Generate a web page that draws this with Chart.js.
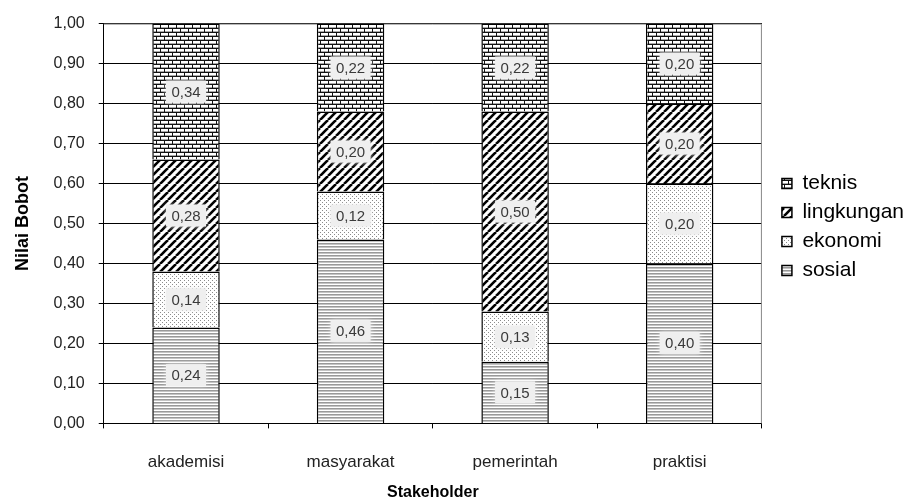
<!DOCTYPE html>
<html><head><meta charset="utf-8">
<script src="https://cdn.jsdelivr.net/npm/chart.js@4.4.1/dist/chart.umd.min.js"></script>
<style>html,body{margin:0;padding:0;background:#fff}#wrap{width:911px;height:502px}</style>
</head><body><div id="wrap"><canvas id="c" width="911" height="502"></canvas></div>
<script>
const categories = ['akademisi', 'masyarakat', 'pemerintah', 'praktisi'];
const sosial = [0.24, 0.46, 0.154, 0.40];
const ekonomi = [0.14, 0.12, 0.126, 0.20];
const lingkungan = [0.28, 0.20, 0.50, 0.20];
const teknis = [0.34, 0.22, 0.22, 0.20];
const yTicks = [0, 0.1, 0.2, 0.3, 0.4, 0.5, 0.6, 0.7, 0.8, 0.9, 1.0];

const FONT = "'Liberation Sans', Arial, sans-serif";

function makePattern(w, h, draw) {
  const c = document.createElement('canvas');
  c.width = w; c.height = h;
  const x = c.getContext('2d');
  x.fillStyle = '#fff'; x.fillRect(0, 0, w, h);
  draw(x);
  return x.createPattern(c, 'repeat');
}
const patSosial = makePattern(1, 3, x => {
  x.fillStyle = '#999'; x.fillRect(0, 0, 1, 1);
  x.fillStyle = '#c4c4c4'; x.fillRect(0, 1, 1, 1);
});
const patEkonomi = makePattern(4, 4, x => {
  x.fillStyle = '#8a8a8a'; x.fillRect(0, 0, 1, 1); x.fillRect(2, 2, 1, 1);
});
const patLingkungan = makePattern(8, 8, x => {
  x.strokeStyle = '#000'; x.lineWidth = 2.6;
  for (const k of [-8, 0, 8]) { x.beginPath(); x.moveTo(k, 8); x.lineTo(k + 8, 0); x.stroke(); }
});
const patTeknis = makePattern(8, 8, x => {
  x.fillStyle = '#111';
  x.fillRect(0, 0, 8, 1); x.fillRect(0, 4, 8, 1);
  x.fillRect(0, 0, 1, 4); x.fillRect(4, 4, 1, 4);
  x.fillStyle = '#aaa';
  x.fillRect(1, 3, 7, 1); x.fillRect(0, 7, 4, 1); x.fillRect(5, 7, 3, 1);
});

const fmt = v => v.toFixed(2).replace('.', ',');

const labelPlugin = {
  id: 'segLabels',
  afterDatasetsDraw(chart) {
    const ctx = chart.ctx;
    ctx.save();
    ctx.font = '15px ' + FONT;
    ctx.textAlign = 'center';
    ctx.textBaseline = 'middle';
    chart.data.datasets.forEach((ds, i) => {
      const meta = chart.getDatasetMeta(i);
      meta.data.forEach((el, j) => {
        const cy = (el.y + el.base) / 2;
        const cx = el.x;
        ctx.save();
        ctx.shadowColor = 'rgba(238,238,238,1)';
        ctx.shadowBlur = 5;
        ctx.fillStyle = '#efefef';
        ctx.fillRect(cx - 20, cy - 11, 40, 22);
        ctx.restore();
        ctx.fillStyle = '#3a3a3a';
        ctx.fillText(fmt(ds.data[j]), cx, cy + 1);
      });
    });
    ctx.restore();
  }
};

const framePlugin = {
  id: 'frame',
  beforeDatasetsDraw(chart) {
    const a = chart.chartArea, ctx = chart.ctx;
    ctx.save();
    ctx.strokeStyle = '#888';
    ctx.lineWidth = 1;
    ctx.beginPath();
    ctx.moveTo(a.left, a.top + 0.5); ctx.lineTo(a.right - 0.5, a.top + 0.5); ctx.lineTo(a.right - 0.5, a.bottom);
    ctx.stroke();
    ctx.restore();
  }
};

const legendShift = {
  id: 'legendShift',
  afterLayout(chart) {
    const lg = chart.legend;
    if (lg) { lg.left += 12; lg.right += 12; lg.top -= 35; lg.bottom -= 35; }
  }
};

const mk = (label, data, pat) => ({
  label, data, backgroundColor: pat, borderColor: '#000', borderWidth: 1.5,
  barPercentage: 0.41, categoryPercentage: 1.0
});

new Chart(document.getElementById('c'), {
  type: 'bar',
  data: {
    labels: categories,
    datasets: [
      mk('sosial', sosial, patSosial),
      mk('ekonomi', ekonomi, patEkonomi),
      mk('lingkungan', lingkungan, patLingkungan),
      mk('teknis', teknis, patTeknis)
    ]
  },
  options: {
    responsive: false,
    animation: false,
    devicePixelRatio: 1,
    layout: { padding: { left: 1, top: 22, right: 9, bottom: 0 } },
    scales: {
      x: {
        stacked: true,
        grid: { display: true, drawOnChartArea: false, drawTicks: true, tickLength: 5, offset: true, color: '#000' },
        border: { color: '#000', width: 1 },
        ticks: { color: '#222', font: { family: FONT, size: 17 }, padding: 24 },
        title: { display: true, text: 'Stakeholder', color: '#000', font: { family: FONT, size: 16, weight: 'bold' }, padding: { top: -14, bottom: 0 } }
      },
      y: {
        stacked: true,
        min: 0, max: 1,
        afterBuildTicks(axis) { axis.ticks = yTicks.map(v => ({ value: v })); },
        grid: { color: '#000', lineWidth: 1, tickLength: 5, drawTicks: true },
        border: { color: '#000', width: 1 },
        ticks: { color: '#222', font: { family: FONT, size: 16 }, padding: 14, callback: v => fmt(v) },
        title: { display: true, text: 'Nilai Bobot', color: '#000', font: { family: FONT, size: 18, weight: 'bold' }, padding: { top: 11, bottom: 6 } }
      }
    },
    plugins: {
      tooltip: { enabled: false },
      legend: {
        position: 'right',
        reverse: true,
        labels: { boxWidth: 10, boxHeight: 10, padding: 8, color: '#000', font: { family: FONT, size: 21 } }
      }
    }
  },
  plugins: [framePlugin, labelPlugin, legendShift]
});
</script>
</body></html>
